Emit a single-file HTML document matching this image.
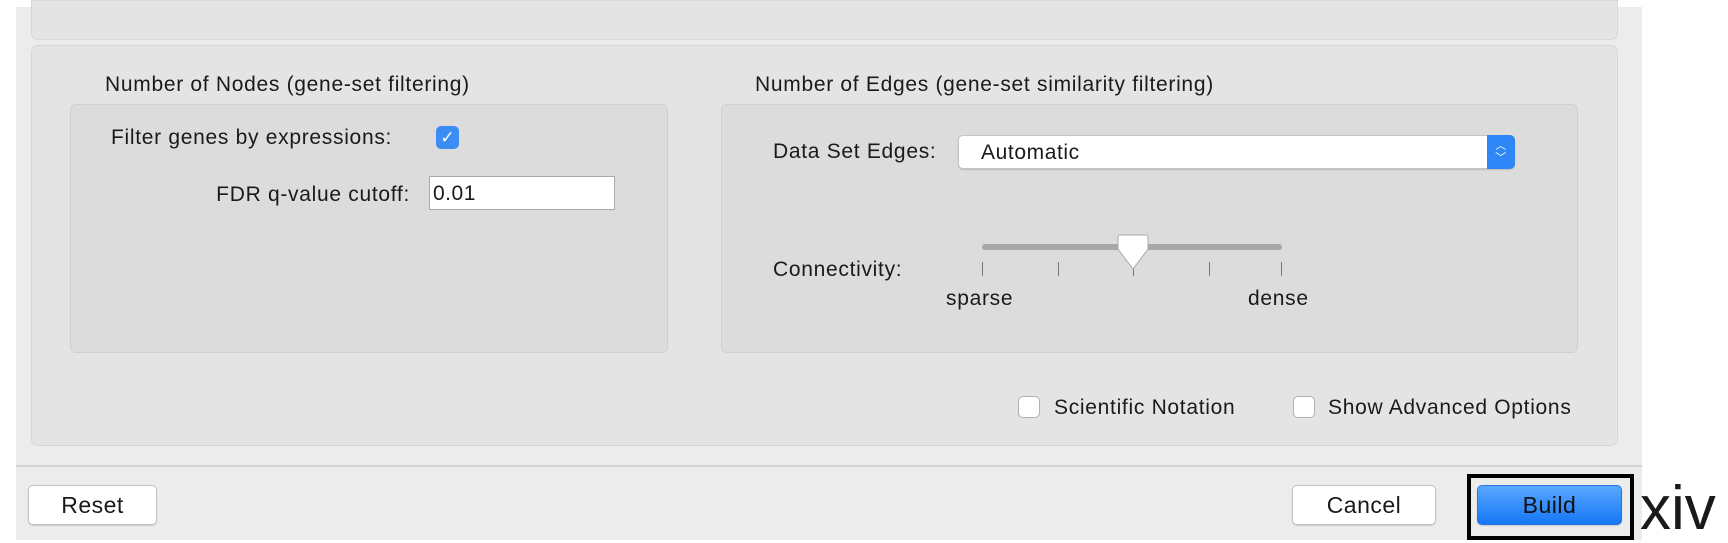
<!DOCTYPE html>
<html><head><meta charset="utf-8"><style>
*{box-sizing:border-box}
body{margin:0;width:1728px;height:540px;position:relative;background:#fff;font-family:"Liberation Sans",sans-serif;color:#1a1a1a;overflow:hidden}
.a{position:absolute}
.t{position:absolute;font-size:21px;letter-spacing:0.7px;white-space:nowrap;line-height:1}
.btn{position:absolute;background:#fff;border:1px solid #c4c4c4;border-radius:5px;box-shadow:0 1px 1px rgba(0,0,0,.15);font-size:23px;letter-spacing:0.5px;display:flex;align-items:center;justify-content:center}
.cb{position:absolute;width:22px;height:22px;background:#fff;border:1px solid #b0b0b0;border-radius:5px}
.tick{position:absolute;width:1px;height:14px;top:262px;background:#777}
</style></head><body>
<div class="a" style="left:16px;top:0;width:1626px;height:540px;background:#ececec"></div>
<div class="a" style="left:0;top:0;width:1642px;height:7px;background:#fff"></div>
<div class="a" style="left:31px;top:0;width:1587px;height:40px;background:#e4e4e4;border:1px solid #d8d8d8;border-radius:0 0 7px 7px"></div>
<div class="a" style="left:31px;top:45px;width:1587px;height:401px;background:#e4e4e4;border:1px solid #d6d6d6;border-radius:7px"></div>
<div class="t" style="left:105px;top:74px">Number of Nodes (gene-set filtering)</div>
<div class="a" style="left:70px;top:104px;width:598px;height:249px;background:#dcdcdc;border:1px solid #d0d0d0;border-radius:6px"></div>
<div class="t" style="left:111px;top:127px">Filter genes by expressions:</div>
<div class="a" style="left:436px;top:126px;width:23px;height:23px;background:#3b8cf5;border-radius:5px;color:#fff;font-size:17px;text-align:center;line-height:23px">✓</div>
<div class="t" style="left:150px;top:184px;width:260px;text-align:right">FDR q-value cutoff:</div>
<div class="a" style="left:429px;top:176px;width:186px;height:34px;background:#fff;border:1px solid #aaa;font-size:21px;letter-spacing:0.5px;padding:5px 3px">0.01</div>
<div class="t" style="left:755px;top:74px">Number of Edges (gene-set similarity filtering)</div>
<div class="a" style="left:721px;top:104px;width:857px;height:249px;background:#dcdcdc;border:1px solid #d0d0d0;border-radius:6px"></div>
<div class="t" style="left:773px;top:141px">Data Set Edges:</div>
<div class="a" style="left:958px;top:135px;width:557px;height:34px;background:#fff;border:1px solid #c4c4c4;border-radius:5px;box-shadow:0 1px 1px rgba(0,0,0,.15);font-size:21px;letter-spacing:0.6px;padding:5px 22px">Automatic
<div class="a" style="right:-1px;top:-1px;width:28px;height:34px;background:#2f86f6;border-radius:0 5px 5px 0;color:#fff;font-size:11px;line-height:12px;text-align:center;padding-top:5px">︿<br>﹀</div></div>
<div class="t" style="left:773px;top:259px">Connectivity:</div>
<div class="a" style="left:982px;top:244px;width:300px;height:6px;background:#a8a8a8;border-radius:3px"></div>
<div class="tick" style="left:982px"></div><div class="tick" style="left:1058px"></div><div class="tick" style="left:1133px"></div><div class="tick" style="left:1209px"></div><div class="tick" style="left:1281px"></div>
<svg class="a" style="left:1117px;top:234px" width="32" height="38"><path d="M3 1h26a2 2 0 0 1 2 2v12l-15 20l-15-20v-12a2 2 0 0 1 2-2z" fill="#fff" stroke="#aaa"/></svg>
<div class="t" style="left:946px;top:288px">sparse</div>
<div class="t" style="left:1248px;top:288px">dense</div>
<div class="cb" style="left:1018px;top:396px"></div>
<div class="t" style="left:1054px;top:397px">Scientific Notation</div>
<div class="cb" style="left:1293px;top:396px"></div>
<div class="t" style="left:1328px;top:397px">Show Advanced Options</div>
<div class="a" style="left:16px;top:465px;width:1626px;height:2px;background:#d4d4d4"></div>
<div class="btn" style="left:28px;top:485px;width:129px;height:40px">Reset</div>
<div class="btn" style="left:1292px;top:485px;width:144px;height:40px">Cancel</div>
<div class="a" style="left:1467px;top:474px;width:167px;height:66px;border:4px solid #000"></div>
<div class="btn" style="left:1477px;top:485px;width:145px;height:40px;background:linear-gradient(#5aa8ff,#1577f4);border-color:#2a74e0;color:#111">Build</div>
<div class="t" style="left:1640px;top:478px;font-size:62px;letter-spacing:0">xiv</div>
</body></html>
